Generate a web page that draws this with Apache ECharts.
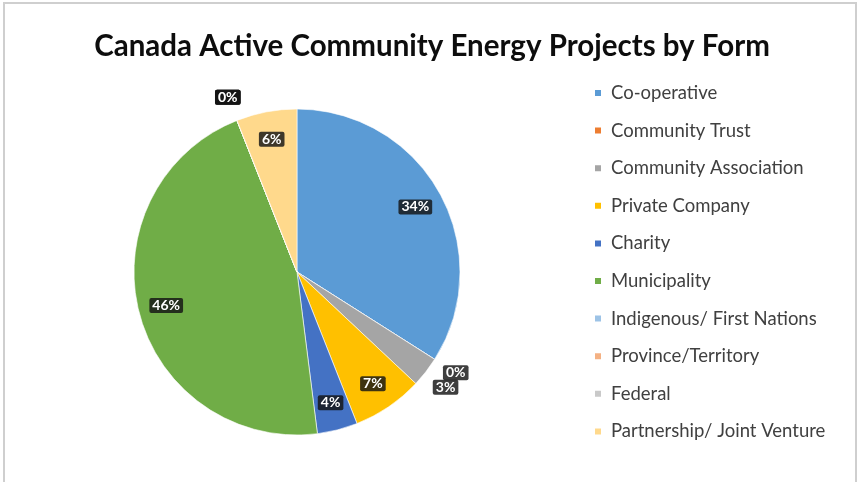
<!DOCTYPE html>
<html>
<head>
<meta charset="utf-8">
<script src="https://cdn.jsdelivr.net/npm/echarts@6/dist/echarts.min.js"></script>
<style>
  html, body { margin: 0; padding: 0; background: #ffffff; }
  #chart { width: 864px; height: 482px; }
</style>
</head>
<body>
<div id="chart"></div>
<script>
// Share of active community energy projects by ownership form (percent)
const categories = [
  'Co-operative',
  'Community Trust',
  'Community Association',
  'Private Company',
  'Charity',
  'Municipality',
  'Indigenous/ First Nations',
  'Province/Territory',
  'Federal',
  'Partnership/ Joint Venture'
];
const shares = [34, 0, 3, 7, 4, 46, 0, 0, 0, 6];
const colors = ['#5b9bd5', '#ed7d31', '#a5a5a5', '#ffc000', '#4472c4',
                '#70ad47', '#9dc3e6', '#f4b183', '#c9c9c9', '#ffd98c'];

const chart = echarts.init(document.getElementById('chart'));

const center = [297, 272];
const R = 163;
const FONT = 'Lato, "Noto Sans", sans-serif';

const labelBox = {
  show: true,
  position: 'inside',
  formatter: '{d}%',
  color: '#ffffff',
  fontFamily: FONT,
  fontWeight: 'bold',
  fontSize: 14,
  backgroundColor: 'rgba(20,20,20,0.82)',
  borderRadius: 2,
  padding: [1, 3, 0, 3]
};

// Small slices get their labels just outside the rim, the rest sit inside
const isSmall = v => v < 3.5;

function labelData(pickSmall) {
  return categories.map((name, i) => ({
    name,
    value: shares[i],
    label: { show: isSmall(shares[i]) === pickSmall }
  }));
}

const ringBase = {
  type: 'pie',
  center,
  startAngle: 90,
  clockwise: true,
  silent: true,
  legendHoverLink: false,
  itemStyle: { color: 'rgba(0,0,0,0)', borderWidth: 0 },
  labelLine: { show: false },
  labelLayout: { hideOverlap: false },
  emphasis: { disabled: true },
  animation: false
};

chart.setOption({
  color: colors,
  animation: false,
  title: {
    text: 'Canada Active Community Energy Projects by Form',
    left: 'center',
    top: 26,
    textStyle: {
      fontFamily: FONT,
      fontWeight: 'bold',
      fontSize: 29.5,
      color: '#0d0d0d'
    }
  },
  legend: {
    orient: 'vertical',
    left: 588,
    top: 78,
    icon: 'rect',
    itemWidth: 8,
    itemHeight: 8,
    itemGap: 17.6,
    selectedMode: false,
    textStyle: {
      fontFamily: FONT,
      fontSize: 18.5,
      lineHeight: 20,
      color: '#404040',
      padding: [0, 0, 0, 4]
    },
    data: categories
  },
  graphic: [{
    type: 'rect',
    shape: { x: 4, y: 3, width: 852, height: 490 },
    style: { fill: 'none', stroke: '#cfcfcf', lineWidth: 2 },
    silent: true
  }],
  series: [
    {
      type: 'pie',
      name: 'Form',
      center,
      radius: [0, R],
      startAngle: 90,
      clockwise: true,
      label: { show: false },
      labelLine: { show: false },
      itemStyle: { borderColor: '#ffffff', borderWidth: 0.6 },
      emphasis: { disabled: true },
      data: categories.map((name, i) => ({ name, value: shares[i] }))
    },
    Object.assign({}, ringBase, {
      name: 'inner-labels',
      radius: [R * 0.62, R],
      label: labelBox,
      data: labelData(false)
    }),
    Object.assign({}, ringBase, {
      name: 'outer-labels',
      radius: [R * 1.03, R * 1.24],
      label: labelBox,
      data: labelData(true)
    })
  ]
});
</script>
</body>
</html>
